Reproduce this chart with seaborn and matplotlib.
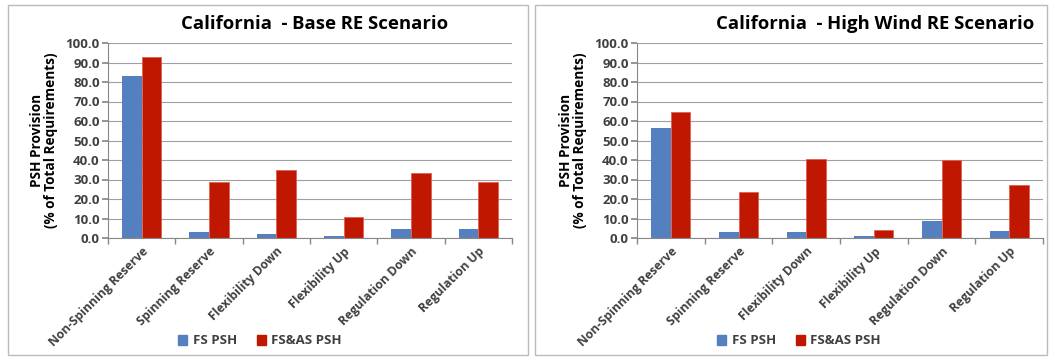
import matplotlib
matplotlib.use("Agg")
import matplotlib.pyplot as plt
import seaborn as sns
import pandas as pd
from matplotlib.patches import Rectangle

categories = ["Non-Spinning Reserve", "Spinning Reserve", "Flexibility Down",
              "Flexibility Up", "Regulation Down", "Regulation Up"]
series = ["FS PSH", "FS&AS PSH"]
base_fs = [83.2, 2.9, 1.9, 0.9, 4.6, 4.6]
base_fsas = [92.6, 28.8, 34.9, 10.8, 33.2, 28.8]
wind_fs = [56.3, 2.9, 2.9, 0.9, 8.7, 3.8]
wind_fsas = [64.6, 23.6, 40.4, 4.3, 40.1, 27.1]
titles = ["California  - Base RE Scenario", "California  - High Wind RE Scenario"]
yticks = [0, 10, 20, 30, 40, 50, 60, 70, 80, 90, 100]

sns.set_theme(style="white")
plt.rcParams['font.family'] = ['Open Sans', 'DejaVu Sans']

colors = {"FS PSH": "#5580C0", "FS&AS PSH": "#C01800"}
txt = "#404040"

fig = plt.figure(figsize=(10.5, 3.6), dpi=100)

# panel borders
for (x0, w) in [(8, 520), (535, 512)]:
    fig.add_artist(Rectangle((x0 / 1050, 5 / 360), w / 1050, 350 / 360,
                             transform=fig.transFigure, fill=False,
                             edgecolor="#BBBBBB", linewidth=1.0))

axes_pos = [[108 / 1050, 122 / 360, 404 / 1050, 195 / 360],
            [637 / 1050, 122 / 360, 406 / 1050, 195 / 360]]
data_sets = [(base_fs, base_fsas), (wind_fs, wind_fsas)]
title_x = [315, 875]
legend_x = [260, 799]

for i in range(2):
    ax = fig.add_axes(axes_pos[i])
    fs, fsas = data_sets[i]
    df = pd.DataFrame({
        "cat": categories * 2,
        "series": [series[0]] * 6 + [series[1]] * 6,
        "val": list(fs) + list(fsas),
    })
    sns.barplot(data=df, x="cat", y="val", hue="series", palette=colors,
                width=0.58, ax=ax, legend=False, saturation=1,
                edgecolor="none")
    for p in ax.patches:
        if p.get_facecolor()[0] > 0.6:
            p.set_edgecolor("#E06050")
            p.set_linewidth(0.6)
    ax.set_ylim(0, 100)
    ax.set_xlim(-0.5, 5.5)
    ax.set_yticks(yticks)
    ax.set_yticklabels([f"{v:.1f}" for v in yticks], fontsize=9.5,
                       fontweight="bold", color=txt)
    ax.yaxis.grid(True, color="#A0A0A0", linewidth=0.8)
    ax.set_axisbelow(True)
    ax.set_xticks(range(6))
    ax.set_xticklabels(categories, rotation=45, ha="right",
                       rotation_mode="anchor", fontsize=8.8,
                       fontweight="bold", color=txt)
    ax.set_xticks([k - 0.5 for k in range(7)], minor=True)
    ax.tick_params(axis="x", which="major", length=0, pad=5)
    ax.tick_params(axis="x", which="minor", length=4, color="#888888",
                   direction="out", bottom=True)
    ax.tick_params(axis="y", length=4, color="#888888", direction="out",
                   left=True, pad=2)
    for s in ["top", "right"]:
        ax.spines[s].set_visible(False)
    for s in ["left", "bottom"]:
        ax.spines[s].set_color("#888888")
        ax.spines[s].set_linewidth(0.8)
    ax.set_xlabel("")
    ax.set_ylabel("PSH Provision\n(% of Total Requirements)", fontsize=9.8,
                  fontweight="bold", color="black", labelpad=5,
                  linespacing=1.05)
    fig.text(title_x[i] / 1050, 1 - 24 / 360, titles[i], ha="center",
             va="center", fontsize=13.3, fontweight="bold", color="black")
    handles = [Rectangle((0, 0), 1, 1, color=colors[s]) for s in series]
    fig.legend(handles, series, loc="center",
               bbox_to_anchor=(legend_x[i] / 1050, 1 - 341 / 360),
               ncol=2, frameon=False, handlelength=0.7, handleheight=0.7,
               handletextpad=0.4, columnspacing=1.5,
               prop={"size": 9.5, "weight": "bold"}, labelcolor=txt)

fig.savefig("out.png", dpi=100)
